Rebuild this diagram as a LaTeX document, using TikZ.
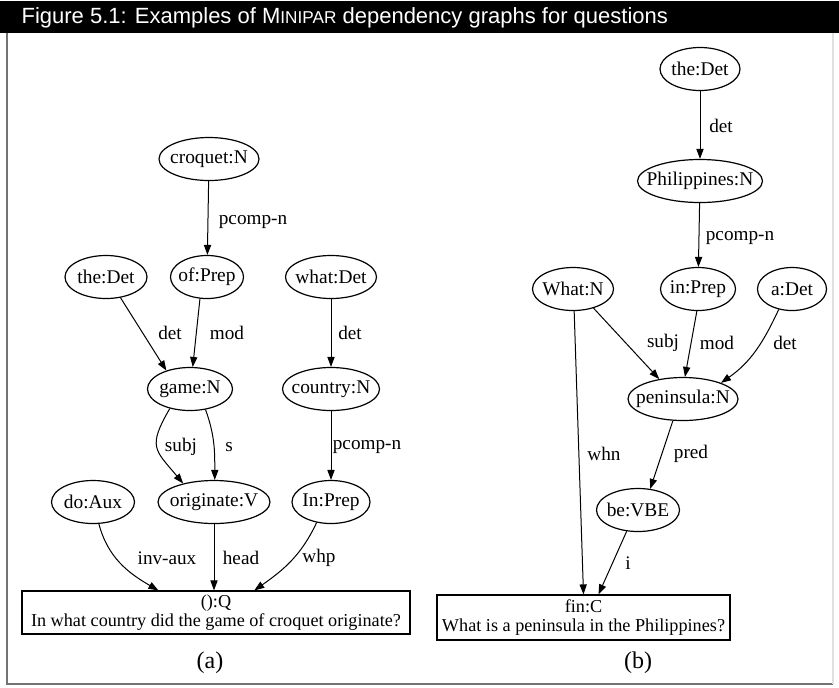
\documentclass[tikz,border=0pt]{standalone}
\usepackage{fontspec}
\setmainfont{Liberation Serif}
\setsansfont{Liberation Sans}
\usetikzlibrary{arrows.meta, shapes.geometric}
\tikzset{
  every picture/.style={line width=0.6pt},
  tok/.style={ellipse, draw, inner xsep=-10pt, inner ysep=-4pt, minimum height=21.5pt, minimum width=#1, font=\fontsize{9.7}{12}\selectfont},
  tok/.default=41pt,
  sent/.style={draw, rectangle, align=center, inner sep=1pt, font=\fontsize{9.1}{9.6}\selectfont},
  lab/.style={font=\fontsize{9.6}{11}\selectfont, inner sep=1pt},
  dep/.style={-{Triangle[length=5pt, width=3.6pt]}, line width=0.5pt},
  title/.style={font=\sffamily\fontsize{11}{13}\selectfont, text=white, anchor=west, inner sep=0pt},
  sub/.style={font=\fontsize{12}{14}\selectfont},
}

\begin{document}
\begin{tikzpicture}[x=0.5pt, y=0.5pt]
  \useasboundingbox (0,0) rectangle (839,-687);
  % frame and title bar
  \draw[black!55, line width=0.8pt] (7,-33) -- (7,-684) -- (833,-684);
  \draw[black!12] (833,-33) -- (833,-684);
  \fill (0,-1) rectangle (839,-33);
  \node[title] (ttl) at (21,-18) {Figure 5.1: Examples of M{\fontsize{8.6}{10}\selectfont INIPAR} dependency graphs for questions};
  % (a) In what country ...
  \node[tok=50pt] (croq) at (209,-159) {croquet:N};
  \node[tok=41pt] (theA) at (106,-277) {the:Det};
  \node[tok=36.5pt] (ofP) at (207,-277) {of:Prep};
  \node[tok=45.5pt] (whatD) at (331,-277) {what:Det};
  \node[tok=42.5pt] (game) at (190,-389) {game:N};
  \node[tok=48.5pt] (ctry) at (331,-389) {country:N};
  \node[tok=41.5pt] (doA) at (93,-502) {do:Aux};
  \node[tok=56pt] (orig) at (214,-502) {originate:V};
  \node[tok=39pt] (inP) at (331,-502) {In:Prep};
  \node[sent, minimum width=194pt, minimum height=21.5pt] (qA) at (216,-612.5) {():Q\\In what country did the game of croquet originate?};
  \draw[dep] (croq) -- (ofP);
  \draw[dep] (theA.-55) -- (game.142);
  \draw[dep] (ofP.-108) -- (game.83);
  \draw[dep] (whatD) -- (ctry);
  \draw[dep] (game.224) to[out=240, in=130, looseness=1.5] (orig.149);
  \draw[dep] (game.-53) to[out=-70, in=90] (orig.88);
  \draw[dep] (ctry) -- (inP);
  \draw[dep] (doA.-75) to[out=-75, in=150] (qA.159);
  \draw[dep] (orig) -- (orig |- qA.north);
  \draw[dep] (inP.235) to[out=245, in=35] (qA.30);
  \node[lab] (lA1) at (253,-222) {pcomp-n};
  \node[lab] (lA2) at (170,-333) {det};
  \node[lab] (lA3) at (227,-333) {mod};
  \node[lab] (lA4) at (350,-333) {det};
  \node[lab] (lA5) at (181,-447) {subj};
  \node[lab] (lA6) at (229,-447) {s};
  \node[lab] (lA7) at (367,-447) {pcomp-n};
  \node[lab] (lA8) at (167,-558) {inv-aux};
  \node[lab] (lA9) at (241,-558) {head};
  \node[lab] (lA10) at (319,-558) {whp};
  \node[sub] (capA) at (210,-663) {(a)};
  % (b) What is a peninsula ...
  \node[tok=40pt] (theB) at (700,-69) {the:Det};
  \node[tok=62.5pt] (phil) at (700,-181) {Philippines:N};
  \node[tok=40.5pt] (whatN) at (573,-289) {What:N};
  \node[tok=37.5pt] (inB) at (698,-289) {in:Prep};
  \node[tok=34.5pt] (aD) at (792,-289) {a:Det};
  \node[tok=55pt] (pen) at (683,-399) {peninsula:N};
  \node[tok=41.5pt] (be) at (638,-510) {be:VBE};
  \node[sent, minimum width=146.5pt, minimum height=22.5pt] (fB) at (583.5,-617.5) {fin:C\\What is a peninsula in the Philippines?};
  \draw[dep] (theB) -- (phil);
  \draw[dep] (phil) -- (inB);
  \draw[dep] (whatN.-43) -- (pen.140);
  \draw[dep] (inB.-93) -- (pen.85);
  \draw[dep] (aD.237) to[out=245, in=35] (pen.23);
  \draw[dep] (whatN.-87) -- (fB.north);
  \draw[dep] (pen.245) -- (be.60);
  \draw[dep] (be.242) -- (fB.57);
  \node[lab] (lB1) at (721,-126) {det};
  \node[lab] (lB2) at (740,-238) {pcomp-n};
  \node[lab] (lB3) at (663,-343) {subj};
  \node[lab] (lB4) at (717,-343) {mod};
  \node[lab] (lB5) at (785,-343) {det};
  \node[lab] (lB6) at (604,-454) {whn};
  \node[lab] (lB7) at (691,-454) {pred};
  \node[lab] (lB8) at (628,-563) {i};
  \node[sub] (capB) at (638,-663) {(b)};
\end{tikzpicture}
\end{document}
